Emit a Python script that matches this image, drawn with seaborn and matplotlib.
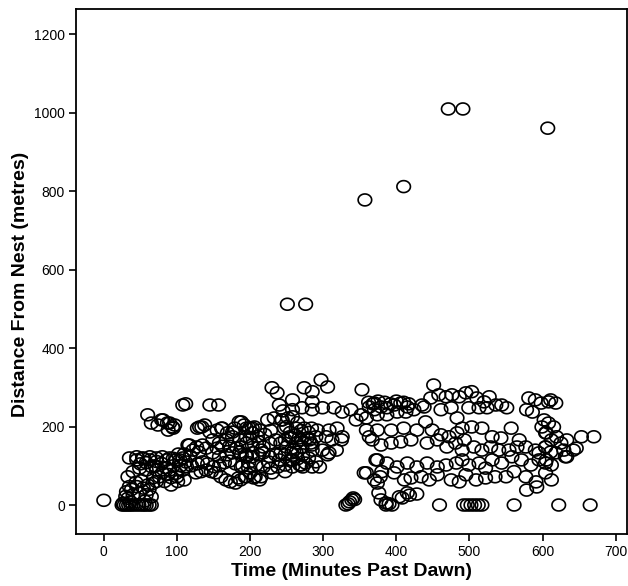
import numpy as np
import pandas as pd
import matplotlib
matplotlib.use("Agg")
import matplotlib.pyplot as plt
from matplotlib.path import Path
import seaborn as sns

# ---- data (minutes past dawn, distance from nest in metres) ----
outlier_x = [251, 276, 357, 410, 471, 491, 607]
outlier_y = [512, 512, 778, 812, 1010, 1010, 961]

zero_x = [0, 25, 28, 31, 34, 37, 40, 44, 48, 52, 55, 58, 62, 65, 26, 33, 40, 65,
          331, 334, 336, 339, 341, 343, 379, 386, 390, 394, 386,
          404, 408, 415, 418, 428, 459, 492, 497, 502, 507, 512, 517, 561, 622, 665]
zero_y = [12, 0, 0, 0, 0, 0, 0, 0, 0, 0, 0, 0, 0, 0, 4, 17, 26, 21,
          0, 3, 8, 13, 18, 14, 13, 0, 3, 0, 5,
          21, 18, 31, 25, 28, 0, 0, 0, 0, 0, 0, 0, 0, 0, 0]

early_x = [31, 35, 45, 54, 60, 67, 33, 40, 49, 58, 65, 72,
           45, 54, 63, 72, 79, 86, 95, 104, 90, 99, 108, 83, 92, 101, 110, 113, 115,
           108, 60, 65, 74, 81, 90, 95, 88, 97,
           49, 58, 72, 76, 80, 52, 44, 38, 30, 36, 56, 62, 68, 70, 58, 50, 85, 95, 105,
           92, 88, 100, 112, 118, 110, 102]
early_y = [34, 47, 47, 43, 51, 55, 72, 85, 94, 89, 98, 89,
           115, 119, 115, 111, 106, 115, 119, 115, 89, 81, 89, 60, 51, 60, 64, 98, 153,
           255, 230, 209, 204, 217, 209, 196, 191, 204,
           30, 26, 60, 72, 82, 62, 58, 40, 22, 8, 10, 40, 70, 100, 108, 105, 95, 100, 100,
           70, 78, 72, 110, 125, 130, 130]

mid1_x = [112, 145, 157, 79, 87, 94, 131, 138, 161, 188, 179, 195, 203,
          117, 127, 135, 149, 158, 168, 176, 186, 195, 203,
          149, 158, 168, 176, 186, 195, 203,
          35, 45, 53, 63, 72, 80, 90, 99, 108,
          126, 133, 140, 147, 153, 160, 167, 173, 180, 187, 193, 200, 207, 213,
          120, 128, 135, 142, 150, 158, 165, 172, 180, 190, 198, 122, 130, 140, 155, 162, 172, 182]
mid1_y = [258, 255, 255, 217, 209, 199, 199, 204, 196, 212, 196, 196, 196,
          153, 148, 153, 166, 158, 166, 174, 166, 174, 184,
          133, 123, 128, 133, 135, 128, 123,
          120, 123, 120, 123, 120, 123, 120, 115, 120,
          82, 85, 89, 85, 82, 72, 64, 59, 56, 64, 72, 82, 72, 64,
          100, 105, 110, 105, 98, 100, 108, 112, 105, 100, 108, 140, 135, 145, 145, 150, 150, 145]

mid2_x = [230, 237, 240, 224, 233, 243, 185, 192, 199, 206, 213,
          128, 134, 145, 155, 162, 169, 176,
          188, 195, 203, 212, 218, 227, 235, 242, 248, 257, 263, 270, 278, 283,
          188, 195, 203, 212, 218, 227, 235, 242, 248, 257, 263, 272,
          188, 198, 208, 218, 228, 238, 248, 258, 268, 276,
          184, 195, 205, 215, 230, 248, 272,
          220, 228, 250, 255, 262, 270, 280, 265, 252, 245, 210, 200, 215, 225, 240, 255, 265, 280, 285, 290]
mid2_y = [299, 286, 255, 217, 222, 217, 212, 204, 196, 199, 191,
          196, 199, 186, 191, 196, 184, 186,
          148, 158, 153, 161, 148, 158, 166, 158, 166, 171, 158, 166, 171, 158,
          128, 123, 133, 128, 133, 123, 128, 133, 128, 133, 135, 128,
          97, 94, 102, 97, 94, 97, 102, 97, 102, 107,
          69, 72, 69, 72, 82, 85, 97,
          180, 190, 200, 185, 178, 190, 185, 210, 222, 240, 175, 170, 140, 110, 115, 115, 118, 120, 140, 110]

mid3_x = [297, 306, 274, 285, 353, 258, 285,
          258, 271, 285, 299, 315, 326, 338, 352, 363, 370, 345, 359,
          244, 258, 247, 263, 274, 284, 292, 308, 319, 326, 254, 267, 281, 290, 304, 312, 325,
          250, 260, 271, 285, 299, 308, 318, 258, 270, 285, 295, 306,
          359, 363, 367, 359, 372, 370]
mid3_y = [319, 301, 299, 289, 294, 268, 263,
          243, 248, 243, 248, 248, 237, 243, 230, 250, 243, 217, 222,
          217, 225, 196, 196, 196, 196, 191, 191, 196, 174, 174, 171, 166, 174, 174, 166, 166,
          148, 140, 148, 153, 140, 133, 140, 115, 102, 97, 97, 128,
          191, 174, 166, 82, 115, 64]

late1_x = [451, 370, 379, 387, 397, 406, 415, 424, 435, 447, 458, 468, 476, 486,
           374, 387, 401, 413, 438, 461, 475, 483,
           374, 393, 410, 428, 440, 449, 461, 472, 483,
           379, 393, 406, 420, 442, 456, 469, 481, 490,
           374, 387, 401, 415, 428, 442, 456, 468, 482,
           380, 397, 411, 420, 434, 445, 456, 475, 486,
           374, 376, 356, 378,
           362, 368, 375, 384, 392, 400, 410, 417]
late1_y = [306, 260, 250, 248, 255, 260, 250, 243, 255, 273, 281, 276, 281, 276,
           230, 230, 237, 237, 250, 243, 248, 222,
           191, 191, 196, 191, 212, 191, 179, 174, 184,
           153, 158, 161, 166, 158, 166, 148, 158, 140,
           115, 107, 97, 107, 97, 107, 97, 102, 107,
           85, 82, 64, 69, 72, 64, 77, 64, 59,
           56, 31, 82, 72,
           262, 258, 265, 262, 258, 265, 262, 258]

late2_x = [495, 503, 510, 520, 527, 536, 544, 551, 581, 590, 598, 578, 586, 608, 499, 513, 524,
           490, 503, 517, 531, 543, 557, 568, 577, 590, 599, 604,
           493, 506, 517, 529, 540, 554, 565, 595, 604,
           490, 499, 513, 522, 531, 544, 558, 571, 584, 595, 604,
           495, 509, 522, 535, 550, 561, 577, 591, 578, 592]
late2_y = [286, 289, 273, 263, 276, 255, 255, 248, 273, 268, 260, 243, 237, 263, 248, 248, 248,
           196, 199, 196, 174, 171, 196, 166, 148, 140, 199, 184,
           166, 148, 140, 148, 140, 140, 148, 133, 148,
           115, 102, 107, 94, 115, 107, 123, 115, 102, 115, 107,
           77, 64, 69, 72, 72, 85, 72, 59, 38, 46]

late3_x = [611, 618, 602, 608, 615, 605, 612, 619, 604, 611, 618, 605, 612, 604,
           625, 633, 642, 633, 653, 670, 629, 646, 631, 612]
late3_y = [268, 260, 217, 209, 199, 184, 166, 174, 148, 135, 133, 115, 102, 82,
           158, 166, 140, 123, 174, 174, 140, 145, 123, 64]

time_x = (outlier_x + zero_x + early_x + mid1_x + mid2_x + mid3_x
          + late1_x + late2_x + late3_x)
dist_y = (outlier_y + zero_y + early_y + mid1_y + mid2_y + mid3_y
          + late1_y + late2_y + late3_y)
df = pd.DataFrame({"time": time_x, "dist": dist_y})

x_ticks = [0, 100, 200, 300, 400, 500, 600, 700]
y_ticks = [0, 200, 400, 600, 800, 1000, 1200]

# ---- style ----
sns.set_style("ticks")
plt.rcParams["font.family"] = ["Liberation Sans", "DejaVu Sans"]

fig = plt.figure(figsize=(6.28, 5.86), dpi=100)
ax = fig.add_axes([0.121, 0.0887, 0.877, 0.896])

t = np.linspace(0, 2 * np.pi, 64)
ell = Path(np.column_stack([np.cos(t), 0.88 * np.sin(t)]), closed=True)

sns.scatterplot(data=df, x="time", y="dist", ax=ax, marker=ell, s=95,
                facecolor="none", edgecolor="black", linewidth=1.2)

ax.set_xlim(-38, 715)
ax.set_ylim(-74, 1265)
ax.set_xticks(x_ticks)
ax.set_yticks(y_ticks)
ax.tick_params(axis="both", direction="out", length=5, width=1.2,
               labelsize=10, colors="black", labelcolor="black", pad=3)
for s in ax.spines.values():
    s.set_visible(True)
    s.set_linewidth(1.3)
    s.set_color("black")
ax.set_xlabel("Time (Minutes Past Dawn)", fontsize=14, fontweight="bold",
              color="black", labelpad=3)
ax.set_ylabel("Distance From Nest (metres)", fontsize=14, fontweight="bold",
              color="black")
ax.yaxis.set_label_coords(-0.085, 0.476)

fig.savefig("out.png", dpi=100)
